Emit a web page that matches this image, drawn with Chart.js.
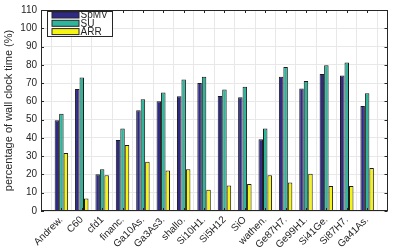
<!DOCTYPE html>
<html>
<head>
<meta charset="utf-8">
<script src="https://cdn.jsdelivr.net/npm/chart.js@4/dist/chart.umd.min.js"></script>
<style>
html,body{margin:0;padding:0;background:#fff;}
#wrap{width:399px;height:249px;position:relative;}
</style>
</head>
<body>
<div id="wrap"><canvas id="c" width="399" height="249"></canvas></div>
<script>
const categories = ['Andrew.', 'C60', 'cfd1', 'financ.', 'Ga10As.', 'Ga3As3.', 'shallo.', 'Si10H1.', 'Si5H12', 'SiO', 'wathen.', 'Ge87H7.', 'Ge99H1.', 'Si41Ge.', 'Si87H7.', 'Ga41As.'];
const seriesNames = ['SpMV', 'SU', 'ARR'];
const spmv = [49.6, 66.8, 20.1, 38.9, 55.1, 60.1, 62.8, 70.0, 63.0, 62.3, 39.3, 73.5, 67.1, 75.0, 74.2, 57.5];
const su   = [53.2, 73.0, 22.8, 45.2, 61.2, 64.9, 71.9, 73.5, 66.5, 68.0, 45.2, 78.8, 71.2, 79.7, 81.3, 64.4];
const arr  = [31.8, 6.9, 19.6, 36.1, 27.0, 22.2, 22.8, 11.6, 13.9, 14.8, 19.6, 15.6, 20.4, 13.7, 13.7, 23.6];
const yTicks = [0, 10, 20, 30, 40, 50, 60, 70, 80, 90, 100, 110];
const yTitle = 'percentage of wall clock time (%)';

const colors = ['#2e2a86', '#2fb59c', '#f5f50f'];
const labels = [''].concat(categories, ['']);
const pad = a => [null].concat(a, [null]);

const FONT = '"Liberation Sans", Arial, sans-serif';

const framePlugin = {
  id: 'frame',
  afterDraw(chart) {
    const ctx = chart.ctx;
    const a = chart.chartArea;
    const xs = chart.scales.x, ys = chart.scales.y;
    ctx.save();
    ctx.strokeStyle = '#262626';
    ctx.lineWidth = 1;
    ctx.strokeRect(Math.round(a.left) + 0.5, Math.round(a.top) + 0.5, Math.round(a.right - a.left) - 1, Math.round(a.bottom - a.top) - 1);
    // inward ticks
    ctx.beginPath();
    for (let i = 1; i <= categories.length; i++) {
      const x = Math.round(xs.getPixelForValue(i)) + 0.5;
      ctx.moveTo(x, a.top); ctx.lineTo(x, a.top + 3);
      ctx.moveTo(x, a.bottom); ctx.lineTo(x, a.bottom - 3);
    }
    yTicks.forEach(v => {
      const y = Math.round(ys.getPixelForValue(v)) + 0.5;
      ctx.moveTo(a.left, y); ctx.lineTo(a.left + 3, y);
      ctx.moveTo(a.right, y); ctx.lineTo(a.right - 3, y);
    });
    ctx.stroke();
    // legend
    const lx = 47.5, ly = 11.5, lw = 65, lh = 25;
    ctx.fillStyle = '#fff';
    ctx.fillRect(lx, ly, lw, lh);
    ctx.strokeStyle = '#262626';
    ctx.strokeRect(lx, ly, lw, lh);
    ctx.font = '10px ' + FONT;
    ctx.textBaseline = 'middle';
    ctx.textAlign = 'left';
    seriesNames.forEach((n, i) => {
      const cy = ly + 3.5 + i * 8.3;
      ctx.fillStyle = colors[i];
      ctx.fillRect(lx + 4.5, cy - 3, 27, 6);
      ctx.strokeStyle = '#262626';
      ctx.strokeRect(lx + 4.5, cy - 3, 27, 6);
      ctx.fillStyle = '#262626';
      ctx.fillText(n, lx + 33, cy + 0.5);
    });
    ctx.restore();
  }
};

new Chart(document.getElementById('c'), {
  type: 'bar',
  data: {
    labels: labels,
    datasets: [
      { label: seriesNames[0], data: pad(spmv), backgroundColor: colors[0], borderColor: '#1a1a1a', borderWidth: 1 },
      { label: seriesNames[1], data: pad(su), backgroundColor: colors[1], borderColor: '#1a1a1a', borderWidth: 1 },
      { label: seriesNames[2], data: pad(arr), backgroundColor: colors[2], borderColor: '#1a1a1a', borderWidth: 1 }
    ]
  },
  options: {
    responsive: false,
    animation: false,
    devicePixelRatio: 1,
    layout: { padding: { top: 4, right: 3, left: 0, bottom: 0 } },
    plugins: { legend: { display: false }, tooltip: { enabled: false } },
    datasets: { bar: { categoryPercentage: 0.66, barPercentage: 1.0 } },
    scales: {
      x: {
        type: 'category',
        offset: false,
        grid: { color: '#e8e8e8', drawTicks: false, lineWidth: 1 },
        border: { display: false },
        ticks: {
          color: '#262626', font: { family: FONT, size: 10 },
          maxRotation: 45, minRotation: 45, padding: 3, autoSkip: false
        },
        afterFit(s) { s.height = 38; }
      },
      y: {
        min: 0, max: 110,
        grid: { color: '#e8e8e8', drawTicks: false, lineWidth: 1 },
        border: { display: false },
        ticks: {
          stepSize: 10, color: '#262626', font: { family: FONT, size: 10 }, padding: 4
        },
        title: { display: true, text: yTitle, color: '#262626', font: { family: FONT, size: 11 }, padding: { top: 2, bottom: 0 } },
        afterFit(s) { s.width = 41; }
      }
    }
  },
  plugins: [framePlugin]
});
</script>
</body>
</html>
